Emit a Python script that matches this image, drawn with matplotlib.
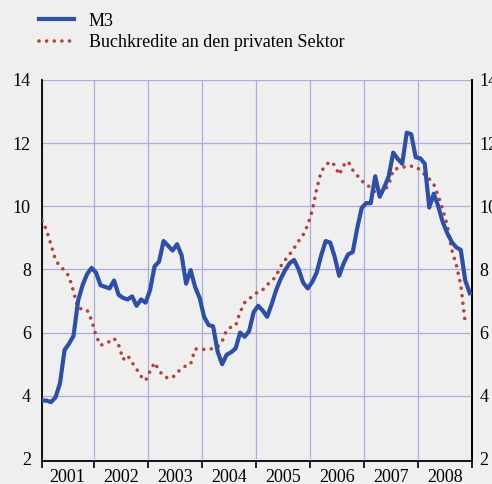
import numpy as np
import matplotlib
matplotlib.use("Agg")
import matplotlib.pyplot as plt
from matplotlib.lines import Line2D

# monthly growth rates in %, Jan 2001 onwards
m3 = [
    3.85, 3.85, 3.80, 3.95, 4.40, 5.45, 5.65, 5.90, 7.00, 7.50, 7.85, 8.05,
    7.90, 7.50, 7.45, 7.40, 7.65, 7.20, 7.10, 7.05, 7.15, 6.85, 7.05, 6.95,
    7.35, 8.10, 8.25, 8.90, 8.75, 8.60, 8.80, 8.45, 7.55, 7.98, 7.45, 7.10,
    6.50, 6.24, 6.20, 5.40, 5.00, 5.30, 5.38, 5.50, 6.00, 5.87, 6.05, 6.65,
    6.85, 6.70, 6.50, 6.90, 7.35, 7.70, 7.98, 8.20, 8.30, 8.00, 7.58, 7.40,
    7.60, 7.90, 8.45, 8.90, 8.85, 8.40, 7.80, 8.20, 8.48, 8.55, 9.30, 9.95,
    10.10, 10.10, 10.95, 10.30, 10.60, 10.95, 11.70, 11.50, 11.35, 12.33, 12.28, 11.55,
    11.52, 11.35, 9.96, 10.40, 10.00, 9.50, 9.15, 8.87, 8.70, 8.62, 7.65, 7.25,
]
kredite = [
    9.55, 9.25, 8.78, 8.30, 8.10, 7.97, 7.78, 7.30, 6.77, 6.75, 6.72, 6.40,
    5.90, 5.60, 5.65, 5.72, 5.82, 5.62, 5.15, 5.28, 5.05, 4.85, 4.62, 4.48,
    4.78, 5.05, 4.80, 4.62, 4.56, 4.58, 4.73, 4.87, 4.95, 5.00, 5.48, 5.48,
    5.47, 5.47, 5.50, 5.55, 5.72, 6.08, 6.18, 6.22, 6.65, 6.95, 7.07, 7.18,
    7.30, 7.35, 7.52, 7.62, 7.80, 8.10, 8.30, 8.48, 8.68, 8.90, 9.10, 9.40,
    9.85, 10.55, 11.10, 11.30, 11.42, 11.30, 11.00, 11.30, 11.42, 11.15, 10.98, 10.80,
    10.72, 10.57, 10.45, 10.40, 10.48, 10.68, 11.15, 11.20, 11.22, 11.28, 11.27, 11.25,
    11.15, 11.00, 10.87, 10.70, 10.33, 9.90, 9.40, 8.62, 8.15, 7.52, 6.30,
]
years = [2001, 2002, 2003, 2004, 2005, 2006, 2007, 2008]
y_ticks = [2, 4, 6, 8, 10, 12, 14]
labels = ["M3", "Buchkredite an den privaten Sektor"]

blue = "#2d4fa8"
red = "#b5413a"
bg = "#efefef"
grid_col = "#a9addf"
dots = (0, (0.01, 2.1))

plt.rcParams["font.family"] = ["Liberation Serif", "DejaVu Serif"]

x_m3 = years[0] + (np.arange(len(m3)) + 0.5) / 12
x_kr = years[0] + (np.arange(len(kredite)) + 0.5) / 12

fig = plt.figure(figsize=(4.92, 4.84), dpi=100, facecolor=bg)
ax = fig.add_axes([0.0854, 0.0517, 0.874, 0.7831], facecolor=bg)

ax.plot(x_kr, kredite, color=red, lw=2.6, linestyle=dots,
        dash_capstyle="round", zorder=3)
ax.plot(x_m3, m3, color=blue, lw=3.0, solid_joinstyle="round", zorder=4)

x0 = years[0] + 0.5 / 12
x1 = years[-1] + 1
ax.set_xlim(x0, x1)
ax.set_ylim(y_ticks[0], y_ticks[-1])

ax.set_xticks([x0] + years[1:] + [x1])
ax.set_xticks([y + 0.5 for y in years], minor=True)
ax.set_xticklabels([])
ax.set_xticklabels([str(y) for y in years], minor=True)
ax.tick_params(axis="x", which="major", direction="out", length=5, width=1.2,
               color="black", grid_color=grid_col)
ax.tick_params(axis="x", which="minor", length=0, pad=6, labelsize=13)
ax.set_yticks(y_ticks)
ax.tick_params(axis="y", length=0, labelsize=13, pad=8)

# right-hand labels with their own padding
sec = ax.secondary_yaxis("right")
sec.set_yticks(y_ticks)
sec.tick_params(axis="y", length=0, labelsize=13, pad=5.5)
sec.spines["right"].set_color("black")
sec.spines["right"].set_linewidth(1.3)

ax.grid(True, which="major", color=grid_col, lw=0.9)
ax.set_axisbelow(True)

for side in ["left", "right", "bottom"]:
    ax.spines[side].set_color("black")
    ax.spines[side].set_linewidth(1.3)
ax.spines["top"].set_visible(False)
ax.spines["bottom"].set_position(("outward", 1.5))

handles = [
    Line2D([], [], color=blue, lw=3.0),
    Line2D([], [], color=red, lw=2.6, linestyle=dots, dash_capstyle="round"),
]
fig.legend(handles, labels, loc="upper left", bbox_to_anchor=(0.079, 0.974),
           frameon=False, fontsize=13, handlelength=1.95, handletextpad=0.8,
           labelspacing=0.25, borderpad=0, borderaxespad=0)

fig.savefig("out.png", dpi=100, facecolor=bg)
